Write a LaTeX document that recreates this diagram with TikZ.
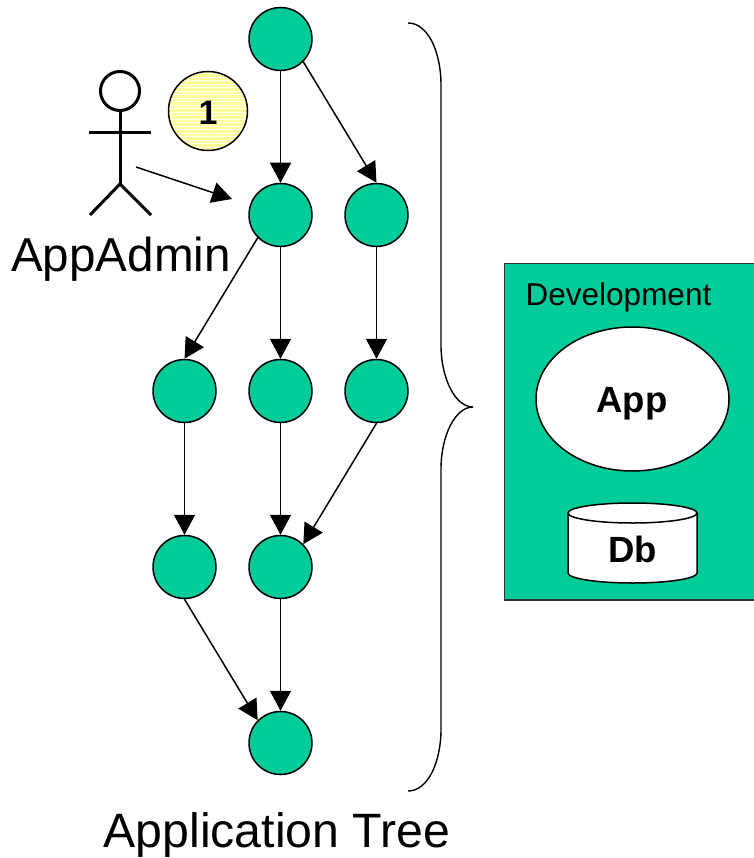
\documentclass[tikz,border=0pt]{standalone}
\usepackage{fontspec}
\setmainfont{Liberation Sans}
\usepackage{xcolor}
\definecolor{colorNode}{HTML}{00CC99}
\definecolor{colorBadge}{HTML}{FFFF99}
\usetikzlibrary{arrows.meta, positioning, shapes.geometric, patterns.meta}
\tikzset{
  treenode/.style={circle, draw=black, line width=1.5pt, fill=colorNode, minimum size=63pt, inner sep=0pt},
  link/.style={-{Triangle[length=20pt,width=21pt]}, line width=1.5pt, black},
  stick/.style={line width=3pt, black},
}
\begin{document}
\begin{tikzpicture}[x=1pt, y=-1pt, node distance=176pt]
\useasboundingbox (0,0) rectangle (753,858);
% application tree
\node[treenode] at (280.5,39) (n0) {};
\node[treenode, below of=n0] (n1) {};
\node[treenode, right of=n1, node distance=96pt] (n2) {};
\node[treenode, below of=n1] (n4) {};
\node[treenode, left of=n4, node distance=96pt] (n3) {};
\node[treenode, right of=n4, node distance=96pt] (n5) {};
\node[treenode, below of=n3] (n6) {};
\node[treenode, below of=n4] (n7) {};
\node[treenode, below of=n7] (n8) {};
\draw[link] (n0) -- (n1);
\draw[link] (n0.south east) -- (n2.north);
\draw[link] (n1.south west) -- (n3.north);
\draw[link] (n1) -- (n4);
\draw[link] (n2) -- (n5);
\draw[link] (n3) -- (n6);
\draw[link] (n4) -- (n7);
\draw[link] (n5.south) -- (n7.north east);
\draw[link] (n6.south) -- (n8.north west);
\draw[link] (n7) -- (n8);
% actor
\node[circle, stick, draw, minimum size=39pt, inner sep=0pt] at (120,91) (head) {};
\coordinate (hip) at (120,184);
\coordinate (handL) at (89,133);
\coordinate (handR) at (151,133);
\coordinate (footL) at (90,215);
\coordinate (footR) at (151,215);
\draw[stick] (head) -- (hip);
\draw[stick] (handL) -- (handR);
\draw[stick] (footL) -- (hip) -- (footR);
\node at (121,259) (admin) {\fontsize{47.6}{48}\selectfont AppAdmin};
\coordinate (from) at (136,167);
\coordinate (to) at (232,199);
\draw[link] (from) -- (to);
% step badge
\node[circle, draw=black, line width=1.5pt, minimum size=79pt, inner sep=0pt,
  preaction={fill=colorBadge}, pattern={Lines[angle=0,distance=3.5pt,line width=1pt]}, pattern color=white] at (208,111) (badge) {};
\node at (208,113) (one) {\fontsize{34}{34}\selectfont\bfseries 1};
% brace and caption
\coordinate (braceA) at (408,23);
\coordinate (braceB) at (441,85);
\coordinate (braceC) at (441,345);
\coordinate (braceT) at (473,407);
\coordinate (braceD) at (441,469);
\coordinate (braceE) at (441,729);
\coordinate (braceF) at (408,791);
\draw[line width=1.4pt] (braceA) .. controls (428,23) and (441,52) .. (braceB) -- (braceC)
  .. controls (441,378) and (455,407) .. (braceT) .. controls (455,407) and (441,436) .. (braceD)
  -- (braceE) .. controls (441,762) and (428,791) .. (braceF);
\node at (277,835.5) (tree) {\fontsize{48.2}{49}\selectfont Application Tree};
% environment
\node[draw=black!80, line width=1.5pt, fill=colorNode, minimum width=250pt, minimum height=336pt, anchor=north west, inner sep=0pt] at (503.5,263) (env) {};
\node[anchor=west, inner sep=0pt] at (525.5,297) (envname) {\fontsize{31.5}{32}\selectfont Development};
\node[ellipse, draw=black, line width=1.5pt, fill=white, minimum width=193pt, minimum height=144pt, inner sep=0pt] at (632.5,399) (app) {};
\node at (632,404) (appname) {\fontsize{36.5}{37}\selectfont\bfseries App};
\draw[line width=1.5pt, fill=white] (568,513) -- (568,573) arc[start angle=180, end angle=360, x radius=64.5pt, y radius=10pt]
  -- (697,513) arc[start angle=0, end angle=180, x radius=64.5pt, y radius=10pt] -- cycle;
\draw[line width=1.5pt] (568,513) arc[start angle=180, end angle=360, x radius=64.5pt, y radius=10pt];
\node at (632.5,549) (dbname) {\fontsize{36.5}{37}\selectfont\bfseries Db};
\end{tikzpicture}
\end{document}
